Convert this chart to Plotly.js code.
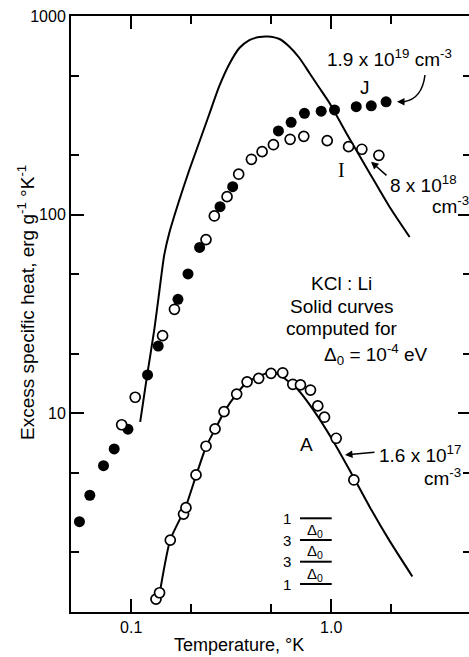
<!DOCTYPE html>
<html>
<head>
<meta charset="utf-8">
<script src="https://cdn.plot.ly/plotly-3.0.1.min.js"></script>
<style>
html,body{margin:0;padding:0;overflow:hidden;background:#fff;}
#chart{width:471px;height:657px;}
</style>
</head>
<body>
<div id="chart"></div>
<script>
// ---- Data (temperature in °K, excess specific heat in erg g^-1 °K^-1) ----
// Sample J (1.9 x 10^19 cm^-3), filled circles
const jTemp = [0.0551, 0.0621, 0.0727, 0.0822, 0.0963, 0.1207, 0.1365, 0.1713, 0.1923, 0.2198,
               0.2781, 0.3216, 0.5446, 0.6304, 0.735, 0.891, 1.039, 1.334, 1.586, 1.881];
const jHeat = [2.85, 3.87, 5.45, 6.62, 8.32, 15.6, 21.8, 37.5, 50.3, 68.4,
               109.7, 138.3, 264, 291.7, 323.8, 332, 336.5, 349.6, 353, 370];
// Sample I (8 x 10^18 cm^-3), open circles
const iTemp = [0.0896, 0.1047, 0.1435, 0.1645, 0.2366, 0.2604, 0.3015, 0.3446, 0.399, 0.4513,
               0.5141, 0.6232, 0.7293, 0.955, 1.221, 1.423, 1.731];
const iHeat = [8.76, 12.05, 24.6, 33.4, 74.9, 98.5, 123.2, 159.8, 190, 207.5,
               225, 239.6, 247.8, 235.8, 219.9, 213.4, 199];
// Sample A (1.6 x 10^17 cm^-3), open circles
const aTemp = [0.133, 0.1386, 0.1568, 0.1827, 0.1878, 0.2109, 0.2366, 0.2625, 0.2912, 0.3368,
               0.3797, 0.4339, 0.5003, 0.5722, 0.6424, 0.7019, 0.7877, 0.8568, 0.9257, 1.059, 1.298];
const aHeat = [1.16, 1.25, 2.30, 3.11, 3.35, 4.90, 6.83, 8.35, 10.2, 12.5,
               14.4, 15.0, 15.9, 16.0, 14.0, 13.9, 13.1, 10.9, 9.56, 7.49, 4.62];
// Computed curve (upper)
const upperCurveTemp = [0.1109, 0.1202, 0.1304, 0.1381, 0.1463, 0.155, 0.174, 0.1952, 0.2191, 0.2458,
                        0.2759, 0.3096, 0.3474, 0.3898, 0.4375, 0.4797, 0.5509, 0.6182, 0.6937, 0.7783,
                        0.8735, 0.9806, 1.189, 1.555, 1.959, 2.466];
const upperCurveHeat = [9.05, 15.6, 26.3, 40.8, 62.7, 80.9, 118.6, 167.9, 232.2, 321.2,
                        444.3, 573.4, 690.2, 757, 784, 788.6, 766, 700.7, 614.6, 516.7,
                        434.1, 364.9, 257.7, 162.2, 109.3, 77.2];
// Computed curve (sample A)
const lowerCurveTemp = [0.1397, 0.1568, 0.1864, 0.2116, 0.2375, 0.2634, 0.2922, 0.3357, 0.3811, 0.4375,
                        0.5023, 0.5509, 0.6703, 0.8249, 1.015, 1.235, 1.555, 1.959, 2.545];
const lowerCurveHeat = [1.29, 2.31, 3.34, 4.90, 6.85, 8.35, 10.2, 12.5, 14.4, 15.4,
                        16.2, 15.6, 13.4, 10.2, 7.35, 5.19, 3.39, 2.28, 1.51];
// Axis ticks
const xTickVals = [0.1, 1];
const xTickText = ['0.1', '1.0'];
const xMinorVals = [0.2, 0.5, 2, 5];
const yTickVals = [10, 100, 1000];
const yTickText = ['10', '100', '1000'];
const yMinorVals = [2, 5, 20, 50, 200, 500];
// Level diagram degeneracies
const levelDegeneracy = ['1', '3', '3', '1'];

// ---- layout helpers (pixel -> paper) ----
const L = 71, W = 400, T = 16, H = 596;
const px = x => (x - L) / W;
const py = y => (T + H - y) / H;
const FONT = 'Liberation Sans, Arial, sans-serif';

const lineStyle = {color: 'black', width: 2, shape: 'spline', smoothing: 0.6};
const traces = [
  {x: upperCurveTemp, y: upperCurveHeat, type: 'scatter', mode: 'lines', line: lineStyle, hoverinfo: 'skip'},
  {x: lowerCurveTemp, y: lowerCurveHeat, type: 'scatter', mode: 'lines', line: lineStyle, hoverinfo: 'skip'},
  {x: jTemp, y: jHeat, type: 'scatter', mode: 'markers',
   marker: {symbol: 'circle', size: 11, color: 'black', line: {color: 'black', width: 0}}},
  {x: iTemp, y: iHeat, type: 'scatter', mode: 'markers',
   marker: {symbol: 'circle', size: 10, color: 'white', line: {color: 'black', width: 1.7}}},
  {x: aTemp, y: aHeat, type: 'scatter', mode: 'markers',
   marker: {symbol: 'circle', size: 10, color: 'white', line: {color: 'black', width: 1.7}}}
];

function txt(text, x, y, size, opts) {
  return Object.assign({text: text, xref: 'paper', yref: 'paper', x: px(x), y: py(y),
    xanchor: 'center', yanchor: 'middle', showarrow: false,
    font: {family: FONT, size: size, color: 'black'}}, opts || {});
}
function arrowHead(x, y, ax, ay) {
  return {text: '', xref: 'paper', yref: 'paper', x: px(x), y: py(y), ax: ax, ay: ay,
    showarrow: true, arrowhead: 2, arrowsize: 1, arrowwidth: 1.5, arrowcolor: 'black', standoff: 0};
}

const annotations = [
  txt('Excess specific heat, erg g<sup>-1</sup> °K<sup>-1</sup>', 26, 303, 19, {textangle: -90}),
  txt('Temperature, °K', 239, 645, 18),
  txt('1.9 x 10<sup>19</sup> cm<sup>-3</sup>', 389, 58, 19),
  txt('J', 365, 87, 19),
  txt('I', 341.7, 170, 20, {font: {family: 'Liberation Serif, serif', size: 20, color: 'black'}}),
  txt('8 x 10<sup>18</sup>', 388, 184, 19, {xanchor: 'left'}),
  txt('cm<sup>-3</sup>', 430, 205, 19, {xanchor: 'left'}),
  txt('KCl : Li', 341.7, 283, 19),
  txt('Solid curves', 341.7, 306, 19),
  txt('computed for', 341.7, 328, 19),
  txt('Δ<sub>0</sub> = 10<sup>-4</sup> eV', 376, 354, 19),
  txt('A', 306, 444, 19),
  txt('1.6 x 10<sup>17</sup>', 377, 454, 19, {xanchor: 'left'}),
  txt('cm<sup>-3</sup>', 421.7, 477, 19, {xanchor: 'left'}),
  arrowHead(397, 101.7, 9, 0),
  arrowHead(371, 161.7, 17, 15),
  arrowHead(345, 455, 31, -3)
];
const levelY = [518.3, 540, 561.7, 584];
levelDegeneracy.forEach((d, k) => annotations.push(txt(d, 286.7, levelY[k], 15)));
for (let k = 1; k < levelY.length; k++) {
  annotations.push(txt('Δ<sub>0</sub>', 315, levelY[k] - 10, 15));
}

const shapes = [
  {type: 'path', xref: 'paper', yref: 'paper',
   path: `M ${px(425)},${py(75)} Q ${px(422)},${py(99)} ${px(404)},${py(101.7)}`,
   line: {color: 'black', width: 1.5}}
];
levelY.forEach(yy => shapes.push({type: 'line', xref: 'paper', yref: 'paper',
  x0: px(300), x1: px(331.7), y0: py(yy), y1: py(yy), line: {color: 'black', width: 2}}));

const axisCommon = {
  type: 'log', showline: true, linewidth: 2, linecolor: 'black', mirror: 'ticks',
  ticks: 'inside', ticklen: 13, tickwidth: 2, tickcolor: 'black',
  showgrid: false, zeroline: false, tickmode: 'array',
  tickfont: {family: FONT, size: 16, color: 'black'}
};
const layout = {
  width: 471, height: 657,
  margin: {l: L, r: 0, t: T, b: 657 - T - H},
  paper_bgcolor: 'white', plot_bgcolor: 'white',
  showlegend: false,
  xaxis: Object.assign({}, axisCommon, {
    range: [Math.log10(0.05), Math.log10(5)], tickvals: xTickVals, ticktext: xTickText,
    minor: {tickmode: 'array', tickvals: xMinorVals, ticks: 'inside', ticklen: 8, tickwidth: 2, tickcolor: 'black', showgrid: false}
  }),
  yaxis: Object.assign({}, axisCommon, {
    range: [0, 3], tickvals: yTickVals, ticktext: yTickText,
    minor: {tickmode: 'array', tickvals: yMinorVals, ticks: 'inside', ticklen: 8, tickwidth: 2, tickcolor: 'black', showgrid: false}
  }),
  annotations: annotations,
  shapes: shapes
};
Plotly.newPlot('chart', traces, layout, {staticPlot: true, displayModeBar: false});
</script>
</body>
</html>
